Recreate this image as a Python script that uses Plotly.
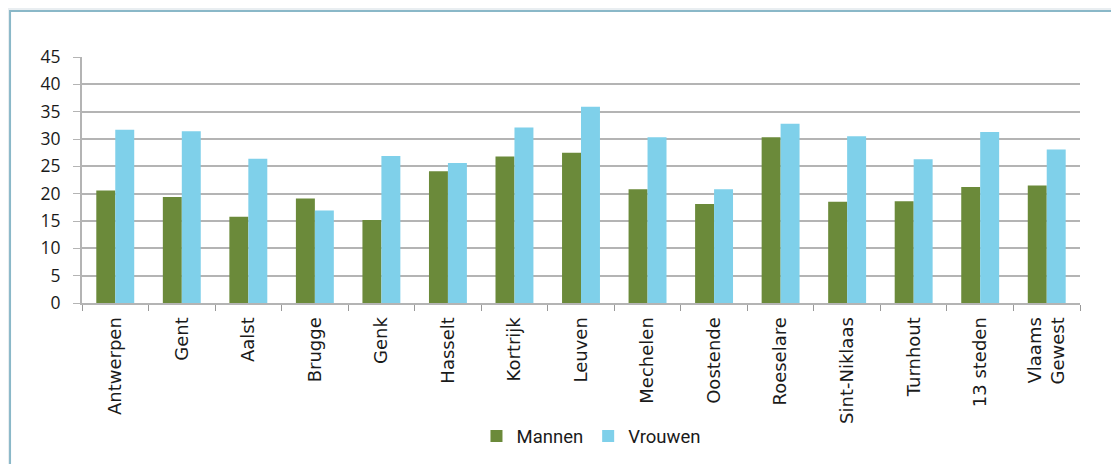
import plotly.graph_objects as go

steden = ["Antwerpen", "Gent", "Aalst", "Brugge", "Genk", "Hasselt", "Kortrijk",
          "Leuven", "Mechelen", "Oostende", "Roeselare", "Sint-Niklaas",
          "Turnhout", "13 steden", "Vlaams<br>Gewest"]
mannen = [20.6, 19.4, 15.8, 19.1, 15.2, 24.1, 26.8, 27.5, 20.8, 18.1, 30.3,
          18.5, 18.6, 21.2, 21.5]
vrouwen = [31.7, 31.4, 26.4, 16.9, 26.9, 25.6, 32.1, 35.9, 30.3, 20.8, 32.8,
           30.5, 26.3, 31.3, 28.1]
y_ticks = [0, 5, 10, 15, 20, 25, 30, 35, 40, 45]

# the page adds an 8px body margin, so the figure is 8px smaller
fig = go.Figure()
fig.add_bar(x=steden, y=mannen, name="Mannen", marker_color="#6b8a3a",
            marker_line_width=0)
fig.add_bar(x=steden, y=vrouwen, name="Vrouwen", marker_color="#7fd0ea",
            marker_line_width=0)

fig.update_layout(
    width=1111,
    height=456,
    barmode="group",
    bargap=0.43,
    bargroupgap=0,
    paper_bgcolor="#e9eef1",
    plot_bgcolor="white",
    margin=dict(l=74, r=39, t=49, b=161, autoexpand=False),
    font=dict(family="DejaVu Sans, sans-serif", size=16, color="#1a1a1a"),
    showlegend=True,
    legend=dict(orientation="h", x=0.51, xanchor="center", y=-0.465,
                yanchor="top",
                font=dict(size=18.5, family="Roboto, sans-serif"),
                itemwidth=30, bgcolor="rgba(0,0,0,0)"),
    shapes=[dict(type="rect", xref="paper", yref="paper", layer="below",
                 x0=-0.0721, x1=1.2, y0=-1.5, y1=1.187,
                 fillcolor="white", line=dict(color="#8ab8c8", width=2))],
)

fig.update_yaxes(range=[0, 45], tickvals=y_ticks, showgrid=True,
                 gridcolor="#b4b4b4", gridwidth=2, showline=True,
                 linecolor="#b4b4b4", linewidth=2, ticks="outside",
                 ticklen=7, tickcolor="#b4b4b4", zeroline=False,
                 automargin=False, ticklabelstandoff=9,
                 tickfont=dict(size=17.5, family="Open Sans, sans-serif"))
fig.update_xaxes(tickangle=-90, showline=True, linecolor="#b4b4b4",
                 linewidth=2, ticks="outside", tickson="boundaries",
                 ticklen=6, tickcolor="#999999", automargin=False,
                 ticklabelstandoff=5, tickfont=dict(size=18))

fig.write_html("out.html")
